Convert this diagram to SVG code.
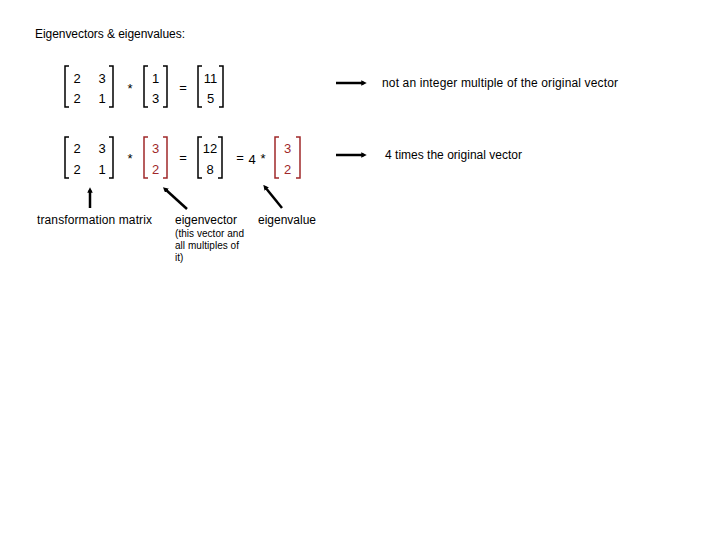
<svg xmlns="http://www.w3.org/2000/svg" width="720" height="540" viewBox="0 0 720 540">
<style>
text{font-family:"Liberation Sans",Arial,sans-serif;fill:#000;}
.t{font-size:12px;}
.n{font-size:13px;text-anchor:middle;}
.s{font-size:10px;}
.r{fill:#a0282a;}
.b{fill:none;stroke:#000;stroke-width:1.5;}
.br{fill:none;stroke:#a0282a;stroke-width:1.5;}
.c{stroke:#000;stroke-width:2.5;fill:none;}
</style>
<defs>
<marker id="ah" viewBox="0 0 10 10" refX="5" refY="5" markerWidth="2.2" markerHeight="2.2" orient="auto">
<path d="M0,0 L10,5 L0,10 z" fill="#000"/>
</marker>
</defs>
<rect width="720" height="540" fill="#fff"/>
<text id="title" class="t" x="35" y="38" textLength="150">Eigenvectors &amp; eigenvalues:</text>

<g id="row1">
<g id="m1">
<path class="b" d="M69,66 H65 V107 H69 M109,66 H113 V107 H109"/>
<text class="n" x="77" y="83">2</text><text class="n" x="102" y="83">3</text>
<text class="n" x="77" y="103">2</text><text class="n" x="102" y="103">1</text>
</g>
<text class="n" x="130" y="93">*</text>
<g id="v1">
<path class="b" d="M148,66 H144 V107 H148 M163,66 H167 V107 H163"/>
<text class="n" x="155.5" y="83">1</text><text class="n" x="155.5" y="103">3</text>
</g>
<text class="n" x="183" y="92">=</text>
<g id="v2">
<path class="b" d="M202,66 H198 V107 H202 M219,66 H223 V107 H219"/>
<text class="n" x="210.5" y="83">11</text><text class="n" x="210.5" y="103">5</text>
</g>
</g>

<g id="row2">
<g id="m2">
<path class="b" d="M69,137 H65 V178 H69 M109,137 H113 V178 H109"/>
<text class="n" x="77" y="153">2</text><text class="n" x="102" y="153">3</text>
<text class="n" x="77" y="174">2</text><text class="n" x="102" y="174">1</text>
</g>
<text class="n" x="130" y="163">*</text>
<g id="ev1">
<path class="br" d="M148,137 H144 V178 H148 M163,137 H167 V178 H163"/>
<text class="n r" x="155.5" y="153">3</text><text class="n r" x="155.5" y="174">2</text>
</g>
<text class="n" x="183" y="162">=</text>
<g id="v3">
<path class="b" d="M202,137 H198 V178 H202 M218,137 H222 V178 H218"/>
<text class="n" x="210" y="153">12</text><text class="n" x="210" y="174">8</text>
</g>
<text class="n" x="240" y="162">=</text>
<text class="n" x="252" y="164">4</text>
<text class="n" x="263" y="163">*</text>
<g id="ev2">
<path class="br" d="M279,137 H275 V178 H279 M296,137 H300 V178 H296"/>
<text class="n r" x="287.5" y="153">3</text><text class="n r" x="287.5" y="174">2</text>
</g>
</g>

<g id="connectors">
<line class="c" x1="336" y1="83" x2="364" y2="83" marker-end="url(#ah)"/>
<line class="c" x1="336" y1="155" x2="364" y2="155" marker-end="url(#ah)"/>
<line class="c" x1="90" y1="208" x2="90" y2="190" marker-end="url(#ah)"/>
<line class="c" x1="187" y1="209" x2="165" y2="189" marker-end="url(#ah)"/>
<line class="c" x1="282" y1="208" x2="265" y2="187" marker-end="url(#ah)"/>
</g>

<g id="labels">
<text id="l1" class="t" x="382" y="87" textLength="236">not an integer multiple of the original vector</text>
<text id="l2" class="t" x="385" y="159" textLength="137">4 times the original vector</text>
<text id="l3" class="t" x="37" y="224" textLength="115">transformation matrix</text>
<text id="l4" class="t" x="175" y="224" textLength="62">eigenvector</text>
<text id="l5" class="t" x="258" y="224" textLength="58">eigenvalue</text>
<text class="s" x="175" y="237" textLength="69">(this vector and</text>
<text class="s" x="175" y="249" textLength="64">all multiples of</text>
<text class="s" x="175" y="261">it)</text>
</g>
</svg>
